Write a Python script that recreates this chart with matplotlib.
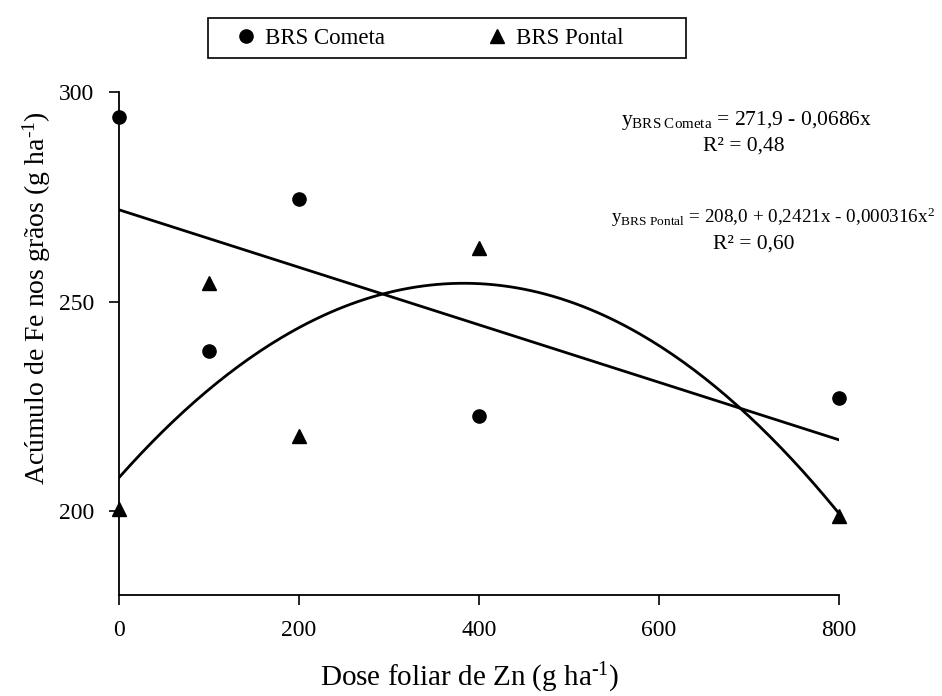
import matplotlib.pyplot as plt
from matplotlib.patches import Rectangle
import numpy as np

plt.rcParams['font.family'] = ['Liberation Serif', 'DejaVu Serif']
plt.rcParams['mathtext.fontset'] = 'custom'
plt.rcParams['mathtext.rm'] = 'Liberation Serif'
plt.rcParams['mathtext.it'] = 'Liberation Serif:italic'

# doses (g/ha) and Fe accumulation
doses = [0, 100, 200, 400, 800]
cometa = [294.0, 238.3, 274.4, 222.7, 227.0]
pontal = [200.5, 254.5, 218.0, 262.7, 198.8]

# regression coefficients printed on the chart
cometa_coef = [271.9, -0.0686]
pontal_coef = [208.0, 0.2421, -0.000316]

fig = plt.figure(figsize=(9.42, 6.96), dpi=100)
ax = fig.add_axes([0.1263, 0.1451, 0.7644, 0.7227])

xs = np.linspace(0, 800, 200)
ax.plot(xs, cometa_coef[0] + cometa_coef[1] * xs, color='black', lw=2.0)
ax.plot(xs, pontal_coef[0] + pontal_coef[1] * xs + pontal_coef[2] * xs ** 2,
        color='black', lw=2.0)

ax.plot(doses, cometa, 'o', color='black', ms=9.5, clip_on=False,
        label='BRS Cometa', zorder=5)
ax.plot(doses, pontal, '^', color='black', ms=9.5, clip_on=False,
        label='BRS Pontal', zorder=5)

ax.set_xlim(0, 800)
ax.set_ylim(180, 300)
ax.set_xticks([0, 200, 400, 600, 800])
ax.set_yticks([200, 250, 300])
for s in ['top', 'right']:
    ax.spines[s].set_visible(False)
ax.spines['left'].set_linewidth(1.3)
ax.spines['bottom'].set_linewidth(1.3)
ax.tick_params(direction='out', length=7, width=1.2, labelsize=17, pad=11)

ax.set_xlabel(r'Dose foliar de Zn (g ha$^{\text{-1}}$)', fontsize=21)
ax.set_ylabel(r'Acúmulo de Fe nos grãos (g ha$^{\text{-1}}$)', fontsize=20)
ax.xaxis.set_label_coords(0.4875, -0.13)
ax.yaxis.set_label_coords(-0.092, 0.59)

# legend box drawn separately so its padding matches the original
fig.patches.append(Rectangle((0.2208, 0.9167), 0.5074, 0.0575,
                             transform=fig.transFigure, fill=False,
                             edgecolor='black', lw=1.2))
fig.legend(loc='center left', bbox_to_anchor=(0.249, 0.945), ncol=2,
           fontsize=16.5, frameon=False, handletextpad=0.33,
           columnspacing=4.4, borderpad=0, handlelength=1.0,
           borderaxespad=0)

ax.text(0.792, 0.82, r'y$_{\mathregular{BRS\ Cometa}}$ = 271,9 - 0,0686x',
        transform=fig.transFigure, ha='center', fontsize=15.5)
ax.text(0.79, 0.784, 'R² = 0,48', transform=fig.transFigure, ha='center',
        fontsize=15.5)
ax.text(0.993, 0.68, r'y$_{\mathregular{BRS\ Pontal}}$ = 208,0 + 0,2421x - 0,000316x$^{\mathregular{2}}$',
        transform=fig.transFigure, ha='right', fontsize=13.8)
ax.text(0.80, 0.643, 'R² = 0,60', transform=fig.transFigure, ha='center',
        fontsize=15.5)

fig.savefig('out.png', dpi=100)
